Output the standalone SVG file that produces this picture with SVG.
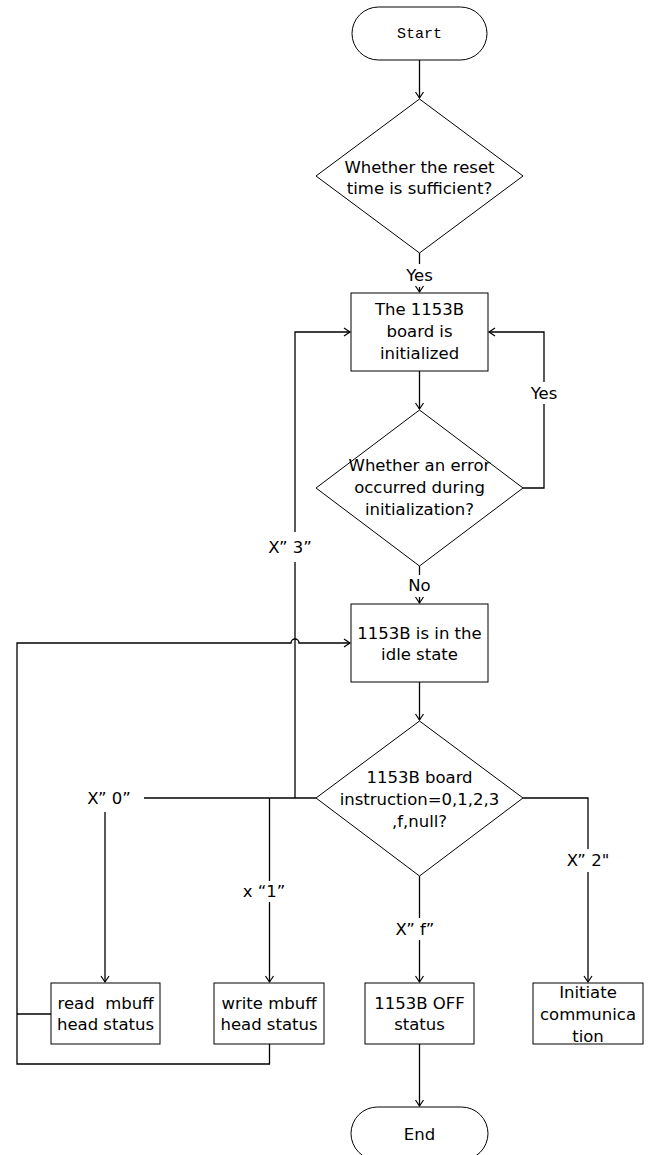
<svg xmlns="http://www.w3.org/2000/svg" width="651" height="1155" viewBox="0 0 651 1155">
<style>
.shape{fill:#fff;stroke:#000;stroke-width:1}
.conn{fill:none;stroke:#000;stroke-width:1.3}
text{font-family:"DejaVu Sans",Verdana,sans-serif;font-size:16.5px;fill:#000;text-anchor:middle}
.mono{font-family:"Liberation Mono","Courier New",monospace;font-size:15px}
</style>
<defs>
<marker id="arr" markerUnits="userSpaceOnUse" markerWidth="12" markerHeight="12" refX="7" refY="5" orient="auto">
<path d="M1,1 L7,5 L1,9" fill="none" stroke="#000" stroke-width="1.2"/>
</marker>
</defs>
<rect width="651" height="1155" fill="#fff"/>
<g id="connectors">
<path class="conn" d="M419.5,60 V98" marker-end="url(#arr)"/>
<path class="conn" d="M419.5,253 V264"/>
<path class="conn" d="M419.5,287 V292" marker-end="url(#arr)"/>
<path class="conn" d="M419.5,371 V409" marker-end="url(#arr)"/>
<path class="conn" d="M523,488 H544 V404"/>
<path class="conn" d="M544,382 V332 H489" marker-end="url(#arr)"/>
<path class="conn" d="M419.5,566 V575"/>
<path class="conn" d="M419.5,597 V603" marker-end="url(#arr)"/>
<path class="conn" d="M419.5,682 V720" marker-end="url(#arr)"/>
<path class="conn" d="M316,798 H144"/>
<path class="conn" d="M295,798 V562"/>
<path class="conn" d="M295,532 V332 H350" marker-end="url(#arr)"/>
<path class="conn" d="M105,812 V982" marker-end="url(#arr)"/>
<path class="conn" d="M269.5,798 V881"/>
<path class="conn" d="M269.5,902 V982" marker-end="url(#arr)"/>
<path class="conn" d="M419.5,876 V918"/>
<path class="conn" d="M419.5,940 V982" marker-end="url(#arr)"/>
<path class="conn" d="M523,798 H588 V849"/>
<path class="conn" d="M588,872 V982" marker-end="url(#arr)"/>
<path class="conn" d="M419.5,1044 V1106" marker-end="url(#arr)"/>
<path class="conn" d="M51,1014 H17"/>
<path class="conn" d="M269.5,1044 V1064 H17 V643 H291 A4,4 0 0 1 299,643 H350" marker-end="url(#arr)"/>
<text x="419.5" y="281">Yes</text>
<text x="544" y="399">Yes</text>
<text x="419.5" y="591">No</text>
<text x="290" y="553">X” 3”</text>
<text x="109" y="804">X” 0”</text>
<text x="264" y="897">x “1”</text>
<text x="415" y="935">X” f”</text>
<text x="588" y="866">X” 2"</text>
</g>
<g id="start">
<rect class="shape" x="352" y="7" width="135" height="53" rx="26.5" ry="26.5"/>
<text class="mono" x="419.5" y="38">Start</text>
</g>
<g id="reset-check">
<polygon class="shape" points="419.5,99 523,176 419.5,253 316,176"/>
<text x="419.5" y="173">Whether the reset</text>
<text x="419.5" y="194">time is sufficient?</text>
</g>
<g id="init">
<rect class="shape" x="351" y="293" width="137" height="78"/>
<text x="419.5" y="315">The 1153B</text>
<text x="419.5" y="337">board is</text>
<text x="419.5" y="359">initialized</text>
</g>
<g id="error-check">
<polygon class="shape" points="419.5,410 523,488 419.5,566 316,488"/>
<text x="419.5" y="471">Whether an error</text>
<text x="419.5" y="493">occurred during</text>
<text x="419.5" y="515">initialization?</text>
</g>
<g id="idle">
<rect class="shape" x="351" y="604" width="137" height="78"/>
<text x="419.5" y="639">1153B is in the</text>
<text x="419.5" y="660">idle state</text>
</g>
<g id="instruction">
<polygon class="shape" points="419.5,721 523,798 419.5,876 316,798"/>
<text x="419.5" y="783">1153B board</text>
<text x="419.5" y="805">instruction=0,1,2,3</text>
<text x="419.5" y="827">,f,null?</text>
</g>
<g id="read">
<rect class="shape" x="51" y="983" width="109" height="61"/>
<text x="105.5" y="1009" xml:space="preserve">read  mbuff</text>
<text x="105.5" y="1030">head status</text>
</g>
<g id="write">
<rect class="shape" x="214" y="983" width="110" height="61"/>
<text x="269" y="1009">write mbuff</text>
<text x="269" y="1030">head status</text>
</g>
<g id="off">
<rect class="shape" x="365" y="983" width="109" height="61"/>
<text x="419.5" y="1009">1153B OFF</text>
<text x="419.5" y="1030">status</text>
</g>
<g id="initiate">
<rect class="shape" x="533" y="983" width="110" height="61"/>
<text x="588" y="998">Initiate</text>
<text x="588" y="1020">communica</text>
<text x="588" y="1042">tion</text>
</g>
<g id="end">
<rect class="shape" x="351" y="1107" width="137" height="53" rx="26.5" ry="26.5"/>
<text x="419.5" y="1140">End</text>
</g>
</svg>
